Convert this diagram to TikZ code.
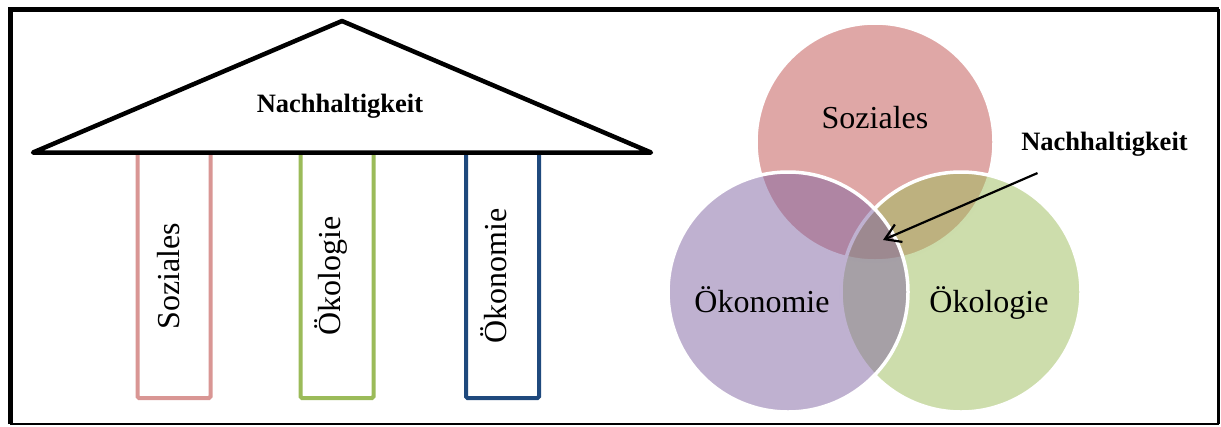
\documentclass[tikz,border=0pt]{standalone}
\usepackage{fontspec}
\setmainfont{Liberation Serif}
\usetikzlibrary{arrows.meta}

\definecolor{sozial}{HTML}{C0504D}
\definecolor{oekolog}{HTML}{9BBB59}
\definecolor{oekonom}{HTML}{8064A2}
\definecolor{sozialrand}{HTML}{D99694}
\definecolor{oekologrand}{HTML}{9BBB59}
\definecolor{oekonomrand}{HTML}{1F497D}

\begin{document}
\begin{tikzpicture}[x=1pt, y=-1pt,
    every node/.style={font=\fontsize{32}{38}\selectfont, inner sep=0pt},
    titel/.style={font=\fontsize{26.5}{32}\selectfont\bfseries},
    saeule/.style={line width=4pt, rounded corners=1.5pt, fill=white},
    kreis/.style={draw=white, line width=3.5pt, fill opacity=0.5}]

    \useasboundingbox (0,0) rectangle (1221,426);

    % --- Rahmen ---
    \draw[line width=5pt] (10,424) -- (10,9) -- (1218.5,9);
    \draw[line width=3pt] (1218.5,9) -- (1218.5,424);
    \draw[line width=1.5pt] (10,424) -- (1218.5,424);

    % --- Haus: Saeulen ---
    \draw[saeule, draw=sozialrand] (137.5,150) rectangle (210.5,398);
    \draw[saeule, draw=oekologrand] (300.5,150) rectangle (373.5,398);
    \draw[saeule, draw=oekonomrand] (466,150) rectangle (539,398);

    \node[rotate=90] (saeule1) at (169,276) {Soziales};
    \node[rotate=90] (saeule2) at (331,276) {Ökologie};
    \node[rotate=90] (saeule3) at (494,276) {Ökonomie};

    % --- Haus: Dach ---
    \draw[line width=4.5pt, line join=round, line cap=round, fill=white]
    (33,152.5) -- (342,21) -- (651,152.5) -- cycle;
    \node[titel, anchor=base] (dach) at (340,112) {Nachhaltigkeit};

    % --- Venn-Diagramm ---
    \draw[kreis, fill=sozial] (875,142) circle[radius=119pt];
    \draw[kreis, fill=oekolog] (961,292) circle[radius=120pt];
    \draw[kreis, fill=oekonom] (788,292) circle[radius=120pt];

    \node[anchor=base] (kreis1) at (875,128) {Soziales};
    \node[anchor=base] (kreis2) at (762,312) {Ökonomie};
    \node[anchor=base] (kreis3) at (989,312) {Ökologie};

    % Pfeil zur Schnittmenge
    \node[titel, anchor=base] (venn) at (1104.5,150) {Nachhaltigkeit};
    \coordinate (mitte) at (883,240);
    \draw[line width=2.2pt, -{Straight Barb[length=15pt,width=19pt]}]
    ([shift={(-67,17)}]venn.south) -- (mitte);

\end{tikzpicture}
\end{document}
